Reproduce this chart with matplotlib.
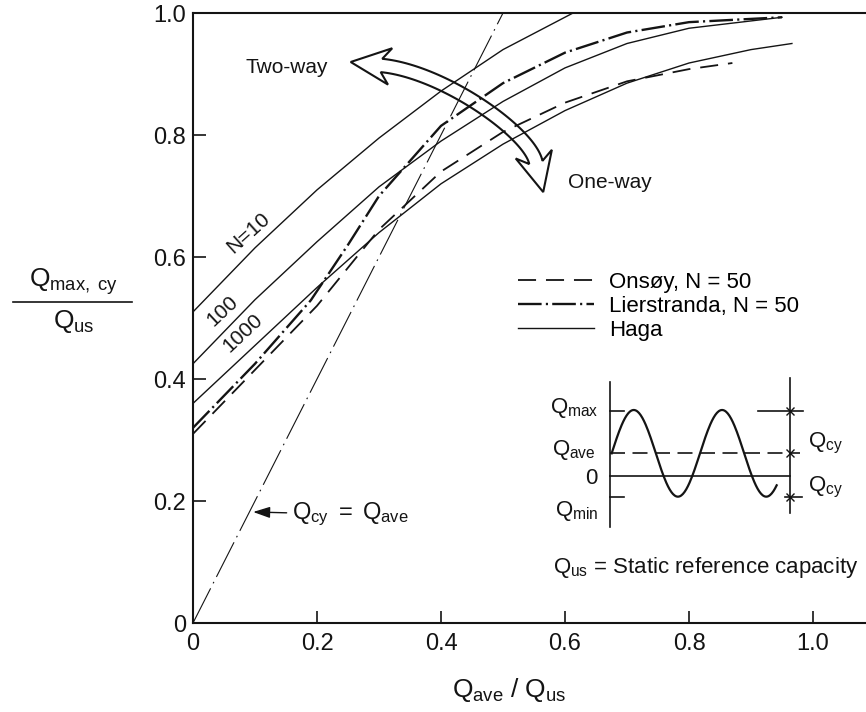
# Cyclic shear strength diagram: Qmax,cy / Qus against Qave / Qus

import numpy as np
import matplotlib
matplotlib.use('Agg')
import matplotlib.pyplot as plt
from matplotlib.lines import Line2D
from matplotlib.patches import Polygon

plt.rcParams['font.family'] = ['Liberation Sans', 'DejaVu Sans']
plt.rcParams['mathtext.fontset'] = 'custom'
plt.rcParams['mathtext.rm'] = 'Liberation Sans'
plt.rcParams['mathtext.it'] = 'Liberation Sans'
plt.rcParams['mathtext.bf'] = 'Liberation Sans:bold'
plt.rcParams['mathtext.sf'] = 'Liberation Sans'

                                                       # Haga, solid lines
haga10_x = [0.0, 0.1, 0.2, 0.3, 0.4, 0.5, 0.613]
haga10_y = [0.51, 0.615, 0.71, 0.795, 0.872, 0.94, 1.0]
haga100_x = [0.0, 0.1, 0.2, 0.3, 0.4, 0.5, 0.6, 0.7, 0.8, 0.95]
haga100_y = [0.425, 0.53, 0.625, 0.715, 0.79, 0.855, 0.91, 0.95, 0.975, 0.993]
haga1000_x = [0.0, 0.1, 0.2, 0.3, 0.4, 0.5, 0.6, 0.7, 0.8, 0.9, 0.966]
haga1000_y = [0.36, 0.455, 0.55, 0.64, 0.72, 0.785, 0.84, 0.885, 0.918, 0.94, 0.95]
                                                       # Onsoy N=50, dashed
onsoy_x = [0.0, 0.1, 0.2, 0.3, 0.4, 0.5, 0.6, 0.7, 0.8, 0.87]
onsoy_y = [0.31, 0.415, 0.52, 0.645, 0.74, 0.805, 0.853, 0.888, 0.908, 0.918]
                                                       # Lierstranda N=50, dash-dot
lier_x = [0.0, 0.1, 0.19, 0.25, 0.3, 0.4, 0.5, 0.6, 0.7, 0.8, 0.95]
lier_y = [0.32, 0.425, 0.529, 0.62, 0.70, 0.815, 0.885, 0.935, 0.968, 0.985, 0.993]
                                                       # Qcy = Qave  ->  Qmax = 2 Qave
ref_x = [0.0, 0.5]
ref_y = [0.0, 1.0]

xticks = [0, 0.2, 0.4, 0.6, 0.8, 1.0]
xtick_labels = ['0', '0.2', '0.4', '0.6', '0.8', '1.0']
yticks = [0, 0.2, 0.4, 0.6, 0.8, 1.0]
ytick_labels = ['0', '0.2', '0.4', '0.6', '0.8', '1.0']

W, H = 866, 712
ink = '#141414'

fig = plt.figure(figsize=(W/100, H/100), dpi=100)
ax = fig.add_axes([193/W, 1-623/H, (W-193)/W, (623-13)/H])

ax.plot(haga10_x, haga10_y, '-', color=ink, lw=1.0)
ax.plot(haga100_x, haga100_y, '-', color=ink, lw=1.0)
h_haga, = ax.plot(haga1000_x, haga1000_y, '-', color=ink, lw=1.0)
h_ons, = ax.plot(onsoy_x, onsoy_y, color=ink, lw=1.3, linestyle=(0, (10, 5.5)))
h_lier, = ax.plot(lier_x, lier_y, color=ink, lw=1.7, linestyle=(0, (10, 1.8, 0.9, 1.8)))
ax.plot(ref_x, ref_y, color=ink, lw=0.8, linestyle=(0, (35, 5, 1.5, 5)))

ax.set_xlim(0, (W-193)/620)
ax.set_ylim(0, 1.0)
ax.set_xticks(xticks)
ax.set_xticklabels(xtick_labels)
ax.set_yticks(yticks)
ax.set_yticklabels(ytick_labels)
ax.tick_params(direction='in', length=9, width=1.2, labelsize=17, colors=ink)
ax.tick_params(axis='x', pad=7)
ax.tick_params(axis='y', pad=5)
ax.spines['right'].set_visible(False)
for s in ['left', 'bottom', 'top']:
    ax.spines[s].set_linewidth(1.5)
    ax.spines[s].set_color(ink)

                                                       # Curve labels
ax.text(0.089, 0.639, 'N=10', rotation=42, rotation_mode='anchor',
        ha='center', va='center', fontsize=15, color=ink)
ax.text(0.048, 0.512, '100', rotation=43, rotation_mode='anchor',
        ha='center', va='center', fontsize=15, color=ink)
ax.text(0.081, 0.475, '1000', rotation=43, rotation_mode='anchor',
        ha='center', va='center', fontsize=15, color=ink)

ax.annotate(r'$Q_{cy}\ =\ Q_{ave}$', xy=(0.097, 0.182), xytext=(0.16, 0.178),
            ha='left', va='center', fontsize=17, color=ink,
            arrowprops=dict(arrowstyle='-|>,head_length=0.6,head_width=0.2',
                            color=ink, lw=1.0, shrinkA=2, shrinkB=0))

                                                       # Two-way / One-way curved arrow
P0 = np.array([0.304, 0.914])
P1 = np.array([0.404, 0.904])
P2 = np.array([0.543, 0.804])
P3 = np.array([0.553, 0.755])
t = np.linspace(0, 1, 60)[:, None]
cen = (1-t)**3*P0 + 3*(1-t)**2*t*P1 + 3*(1-t)*t**2*P2 + t**3*P3
tan = np.gradient(cen, axis=0)
tan = tan/np.linalg.norm(tan, axis=1)[:, None]
nrm = np.column_stack([-tan[:, 1], tan[:, 0]])
bw, hw, hl, sw = 0.011, 0.030, 0.050, 0.014            # band, head half width, head length, barb sweep
left = cen + bw*nrm
right = cen - bw*nrm
tip0 = cen[0] - hl*tan[0]
tip1 = cen[-1] + hl*tan[-1]
poly = np.vstack([tip0, cen[0] + hw*nrm[0] + sw*tan[0], left,
                  cen[-1] + hw*nrm[-1] - sw*tan[-1], tip1,
                  cen[-1] - hw*nrm[-1] - sw*tan[-1], right[::-1],
                  cen[0] - hw*nrm[0] + sw*tan[0]])
ax.add_patch(Polygon(poly, closed=True, fill=False, edgecolor=ink, lw=1.5,
                     joinstyle='miter'))
ax.text(0.152, 0.91, 'Two-way', ha='center', va='center', fontsize=15, color=ink)
ax.text(0.605, 0.722, 'One-way', ha='left', va='center', fontsize=15, color=ink)

                                                       # Legend
ax.legend([h_ons, h_lier, h_haga], ['Onsøy, N = 50', 'Lierstranda, N = 50', 'Haga'],
          loc='upper left', bbox_to_anchor=(0.483, 0.575), frameon=False,
          fontsize=16, handlelength=3.4, handletextpad=0.7, labelspacing=0.12,
          borderpad=0, borderaxespad=0)

                                                       # Axis labels
fig.add_artist(Line2D([13/W, 132/W], [1-302/H, 1-302/H], color=ink, lw=1.2,
                      transform=fig.transFigure))
fig.text(74/W, 1-297/H, r'$Q_{max,\ cy}$', ha='center', va='bottom', fontsize=19, color=ink)
fig.text(74/W, 1-308/H, r'$Q_{us}$', ha='center', va='top', fontsize=19, color=ink)
fig.text(509/W, 1-690/H, r'$Q_{ave}$ / $Q_{us}$', ha='center', va='center',
         fontsize=19, color=ink)

                                                       # Inset sketch of the load history
ins = fig.add_axes([500/W, 1-620/H, 366/W, 260/H])
ins.set_xlim(0, 1098)
ins.set_ylim(780, 0)
ins.axis('off')
ins.patch.set_alpha(0)
ins.plot([330, 330], [65, 500], color=ink, lw=1.2)
ins.plot([870, 870], [55, 460], color=ink, lw=1.2)
ins.plot([330, 372], [152, 152], color=ink, lw=1.2)
ins.plot([775, 910], [152, 152], color=ink, lw=1.2)
ins.plot([330, 900], [280, 280], color=ink, lw=1.2, linestyle=(0, (9, 4.5)))
ins.plot([330, 870], [348, 348], color=ink, lw=1.2)
ins.plot([330, 372], [410, 410], color=ink, lw=1.2)
ins.plot([855, 905], [410, 410], color=ink, lw=1.2)
ins.plot([870, 870, 870], [152, 280, 410], 'x', color=ink, ms=6, mew=1.0)
wx = np.linspace(335, 830, 200)
wy = 280 - 130*np.sin(2*np.pi*(wx-335)/265)
ins.plot(wx, wy, color=ink, lw=1.6)
ins.text(295, 160, r'$Q_{max}$', ha='right', va='baseline', fontsize=16, color=ink)
ins.text(287, 285, r'$Q_{ave}$', ha='right', va='baseline', fontsize=16, color=ink)
ins.text(292, 373, '0', ha='right', va='baseline', fontsize=16, color=ink)
ins.text(295, 468, r'$Q_{min}$', ha='right', va='baseline', fontsize=16, color=ink)
ins.text(925, 262, r'$Q_{cy}$', ha='left', va='baseline', fontsize=16, color=ink)
ins.text(925, 393, r'$Q_{cy}$', ha='left', va='baseline', fontsize=16, color=ink)
ins.text(160, 638, r'$Q_{us}$ = Static reference capacity', ha='left', va='baseline',
         fontsize=16, color=ink)

fig.savefig('out.png', dpi=100)
